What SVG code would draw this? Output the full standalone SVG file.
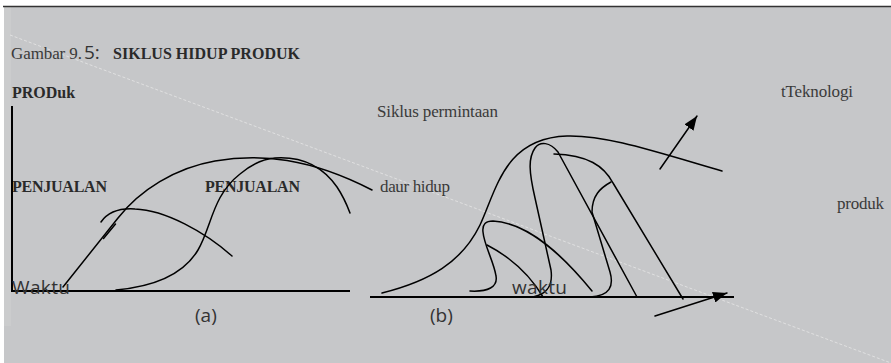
<svg xmlns="http://www.w3.org/2000/svg" width="891" height="363" viewBox="0 0 891 363">
<style>
.reg{font-family:"Liberation Serif","Times New Roman",serif;font-size:17px;fill:#3a3a3a}
.bold{font-family:"Liberation Serif","Times New Roman",serif;font-size:16px;font-weight:bold;fill:#2a2a2a}
.sans{font-family:"Open Sans","DejaVu Sans",sans-serif;font-size:19px;fill:#333}
.ln{fill:none;stroke:#000;stroke-width:1.5;stroke-linecap:round;stroke-linejoin:round}
.ax{fill:none;stroke:#000;stroke-width:2}
</style>
<defs>
<marker id="ah" markerUnits="userSpaceOnUse" markerWidth="15" markerHeight="11" refX="14" refY="5.5" orient="auto" viewBox="0 0 15 11">
<path d="M0,0 L14,5.5 L0,11 z" fill="#000"/>
</marker>
</defs>
<rect x="0" y="0" width="891" height="363" fill="#ffffff"/>
<rect x="4" y="6" width="887" height="357" fill="#c6c7c9"/>
<rect x="4" y="7" width="7" height="319" fill="#cbcccd"/>
<line x1="3" y1="6.5" x2="891" y2="6.5" stroke="#333" stroke-width="1.5"/>
<line x1="10" y1="35" x2="891" y2="363" stroke="#e6e6e6" stroke-width="0.8" stroke-dasharray="3 2"/>

<g id="title">
<text class="reg" x="11" y="59" textLength="71">Gambar 9.</text>
<text class="sans" x="84" y="59" font-size="20">5:</text>
<text class="bold" x="113" y="59" textLength="187">SIKLUS HIDUP PRODUK</text>
</g>

<g id="panel-a">
<text class="bold" x="12" y="98">PRODuk</text>
<text class="bold" x="12" y="192" textLength="95">PENJUALAN</text>
<text class="bold" x="205" y="192" textLength="95">PENJUALAN</text>
<path class="ax" d="M12,106 L12,291 L350,291"/>
<path class="ln" d="M63,287 L118,218 C140,190 175,168 215,161 C260,153 310,158 372,190"/>
<path class="ln" d="M103.5,238.5 L115.5,224"/>
<path class="ln" d="M101,222 C108,212 120,208 135,209 C165,210 205,232 232,256"/>
<path class="ln" d="M116,290 C160,286 185,272 198,250 C212,226 212,196 240,174 C252,164 262,159 275,158 C305,156 325,170 337,187 C343,196 347,205 350,213"/>
<text class="sans" x="12" y="294" textLength="58">Waktu</text>
<text class="sans" x="195" y="322">(a)</text>
</g>

<g id="panel-b">
<text class="reg" x="377" y="117" textLength="121">Siklus permintaan</text>
<text class="reg" x="380" y="192" textLength="70">daur hidup</text>
<text class="reg" x="781" y="97" textLength="72">tTeknologi</text>
<text class="reg" x="837" y="209" textLength="47">produk</text>
<path class="ax" d="M370,297 L734,297"/>
<path class="ln" d="M382,293 C430,281 462,262 480,225 C497,188 505,138 567,136 C605,135 650,150 722,171"/>
<path class="ln" d="M533,297 C548,294 553,285 551,270 L535,198 C529,172 528,158 535,148 C540,141 550,142 558,152 L637,297"/>
<path class="ln" d="M554,154 C588,155 604,166 613,183 L683,299"/>
<path class="ln" d="M611,182 C600,188 592,196 592,212 L610,272 C614,286 610,296 590,297"/>
<path class="ln" d="M470,291 C488,292 498,287 496,276 C494,262 484,245 483,232 C482,224 486,221 493,221 C530,223 565,258 592,291"/>
<path class="ln" d="M487,245 C510,257 530,275 543,297"/>
<text class="sans" x="512" y="294" textLength="55">waktu</text>
<text class="sans" x="430" y="322">(b)</text>
</g>

<g id="connectors">
<path class="ln" d="M660,169 L697,116" marker-end="url(#ah)"/>
<path class="ln" d="M655,316 L727,293" marker-end="url(#ah)"/>
</g>
</svg>
